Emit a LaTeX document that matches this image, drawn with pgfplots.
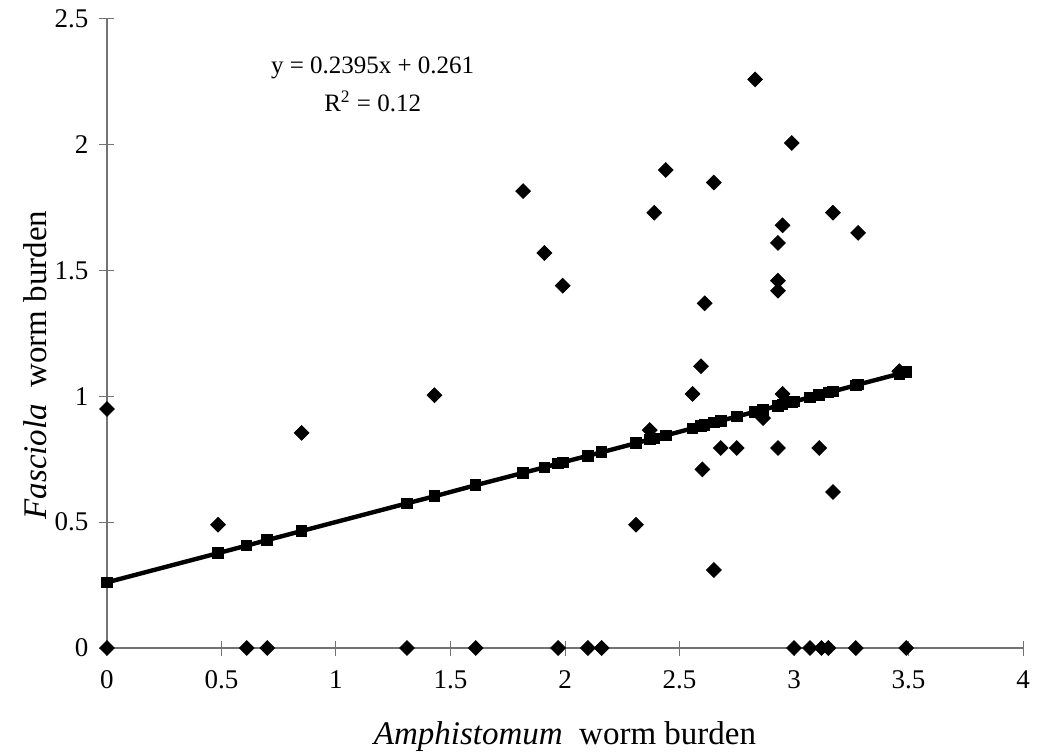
\documentclass[border=0pt]{standalone}
\usepackage{pgfplots}
\pgfplotsset{compat=1.18}
\usepackage{fontspec}
\setmainfont{Liberation Serif}

% worm burden scatter (diamonds) + fitted line (squares)
\pgfplotstableread{
x y
0 0.95
0.485 0.49
0.85 0.855
1.43 1.005
1.817 1.816
1.91 1.57
1.99 1.44
2.31 0.49
2.37 0.866
2.39 1.73
2.44 1.90
2.557 1.01
2.594 1.12
2.60 0.71
2.61 1.37
2.65 1.85
2.65 0.31
2.68 0.795
2.75 0.795
2.83 2.26
2.865 0.914
2.93 0.795
2.93 1.42
2.93 1.46
2.93 1.61
2.95 1.68
2.95 1.01
2.99 2.007
3.11 0.795
3.17 0.62
3.17 1.73
3.28 1.65
3.46 1.10
0 0
0.61 0
0.70 0
1.31 0
1.61 0
1.97 0
2.10 0
2.16 0
3.00 0
3.07 0
3.12 0
3.15 0
3.27 0
3.49 0
}\points

\pgfplotstableread{
x y
0 0.261
0.485 0.377
0.61 0.407
0.70 0.429
0.85 0.465
1.31 0.575
1.43 0.603
1.61 0.647
1.817 0.696
1.91 0.718
1.97 0.733
1.99 0.738
2.10 0.764
2.16 0.778
2.31 0.814
2.37 0.829
2.39 0.833
2.44 0.845
2.557 0.873
2.594 0.882
2.61 0.886
2.65 0.896
2.68 0.903
2.75 0.920
2.83 0.939
2.865 0.947
2.93 0.963
2.95 0.968
2.99 0.977
3.00 0.980
3.07 0.996
3.11 1.006
3.15 1.015
3.17 1.020
3.27 1.044
3.28 1.047
3.46 1.090
3.49 1.097
}\trend

\begin{document}
\begin{tikzpicture}
\useasboundingbox (-53.5pt,-53.5pt) rectangle (468pt,324pt);
\begin{axis}[
    at={(0,0)}, anchor=south west,
    scale only axis,
    width=458pt, height=314.5pt,
    xmin=0, xmax=4, ymin=0, ymax=2.5,
    axis x line=bottom, axis y line=left,
    axis line style={-, draw=black!55, line width=0.6pt},
    xtick={0,0.5,1,1.5,2,2.5,3,3.5,4},
    ytick={0,0.5,1,1.5,2,2.5},
    tick align=center,
    major tick length=7.5pt,
    tick style={black!55, line width=0.5pt},
    ticklabel style={font=\fontsize{13.5}{15}\selectfont},
    /pgf/number format/assume math mode=true,
    xticklabel style={yshift=-4pt},
    yticklabel style={xshift=-2pt},
    xlabel={\textit{Amphistomum}\ \ worm burden},
    ylabel={\textit{Fasciola}\ \ worm burden},
    label style={font=\fontsize{16.5}{18}\selectfont},
    xlabel style={at={(axis description cs:0.5,0)}, anchor=center, yshift=-44.5pt},
    ylabel style={at={(axis description cs:0,0.45)}, anchor=center, yshift=36pt},
    clip=false,
]
\addplot[black, line width=2.2pt, mark=square*, mark size=1.8pt] table[x=x, y=y] {\trend};
\addplot[only marks, black, mark=square*, mark size=2.6pt, mark options={rotate=45}] table[x=x, y=y] {\points};
\node[align=center, font=\fontsize{12.5}{19}\selectfont] at (axis cs:1.16,2.24)
    {y = 0.2395x + 0.261\\R\textsuperscript{2} = 0.12};
\end{axis}
\end{tikzpicture}
\end{document}
